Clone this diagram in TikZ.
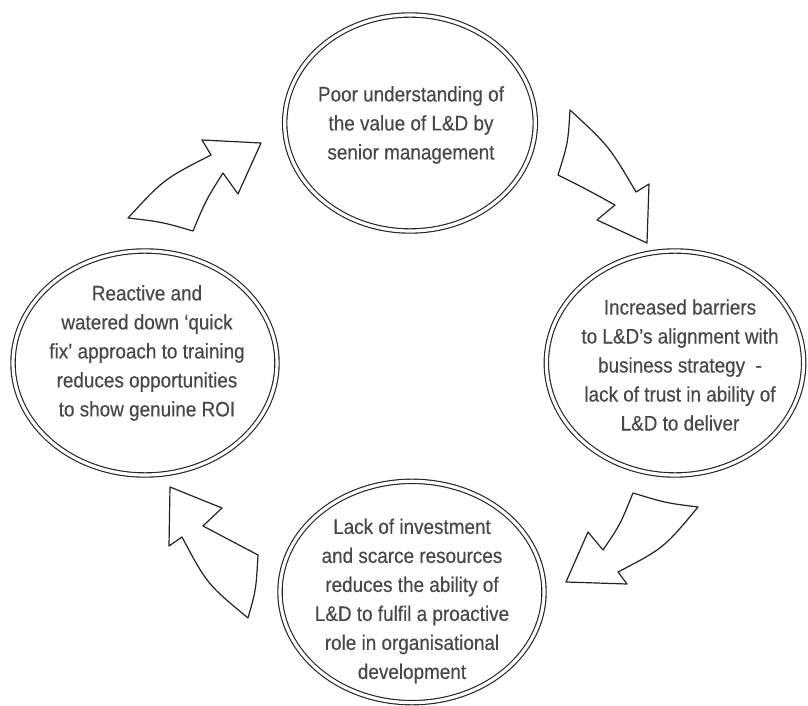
\documentclass[tikz,border=0pt]{standalone}
\usepackage{fontspec}
\setmainfont{Liberation Sans}[FakeStretch=0.9, FakeBold=0.4]
\usetikzlibrary{shapes.geometric}
\definecolor{ink}{RGB}{35,35,35}
\definecolor{txt}{RGB}{72,72,72}
\tikzset{
	ring/.style={ellipse, draw=ink, double=white, double distance=2.4pt, line width=0.85pt, inner sep=0pt},
	blurb/.style={align=center, text=txt, font=\fontsize{15.75}{21.75}\selectfont},
	bigarrow/.style={draw=ink, line width=0.9pt, line join=round, fill=white}
}

\begin{document}
\begin{tikzpicture}[x=0.75pt, y=-0.75pt]
	\fill[white] (0,0) rectangle (808,706);
	\useasboundingbox (0,0) rectangle (808,706);
	% the four stages
	\node[ring, minimum width=188pt, minimum height=162pt] (topring) at (410,123) {};
	\node[ring, minimum width=193pt, minimum height=168pt] (rightring) at (675,363) {};
	\node[ring, minimum width=198pt, minimum height=166pt] (bottomring) at (412,592) {};
	\node[ring, minimum width=198pt, minimum height=168pt] (leftring) at (145,363) {};
	\node[blurb] (toptext) at (411,125) {Poor understanding of\\the value of L\&D by\\senior management};
	\node[blurb] (righttext) at (680,365) {Increased barriers\\to L\&D’s alignment with\\business strategy~~-\\lack of trust in ability of\\L\&D to deliver};
	\node[blurb] (bottomtext) at (412,601) {Lack of investment\\and scarce resources\\reduces the ability of\\L\&D to fulfil a proactive\\role in organisational\\development};
	\node[blurb] (lefttext) at (147,353) {Reactive and\\watered down ‘quick\\fix’ approach to training\\reduces opportunities\\to show genuine ROI};
	% arrows round the cycle
	\draw[bigarrow] (570,110) .. controls (609,146) .. (636,192) -- (649,184) -- (647,243) -- (597,220) -- (615,205) .. controls (586,189) .. (558,175) .. controls (568,143) .. (570,110) -- cycle;
	\draw[bigarrow] (633,493) .. controls (666,503) .. (698,507) .. controls (664,548) .. (618,572) -- (627,584) -- (566,582) -- (588,532) -- (603,550) .. controls (620,525) .. (633,493) -- cycle;
	\draw[bigarrow] (248,618) .. controls (256,590) .. (258,555) .. controls (230,540) .. (203,526) -- (222,508) -- (170,487) -- (169,546) -- (182,537) .. controls (207,584) .. (248,618) -- cycle;
	\draw[bigarrow] (128,218) .. controls (162,222) .. (193,231) .. controls (206,200) .. (223,173) -- (238,194) -- (261,143) -- (202,140) -- (211,155) .. controls (164,179) .. (128,218) -- cycle;
\end{tikzpicture}
\end{document}
